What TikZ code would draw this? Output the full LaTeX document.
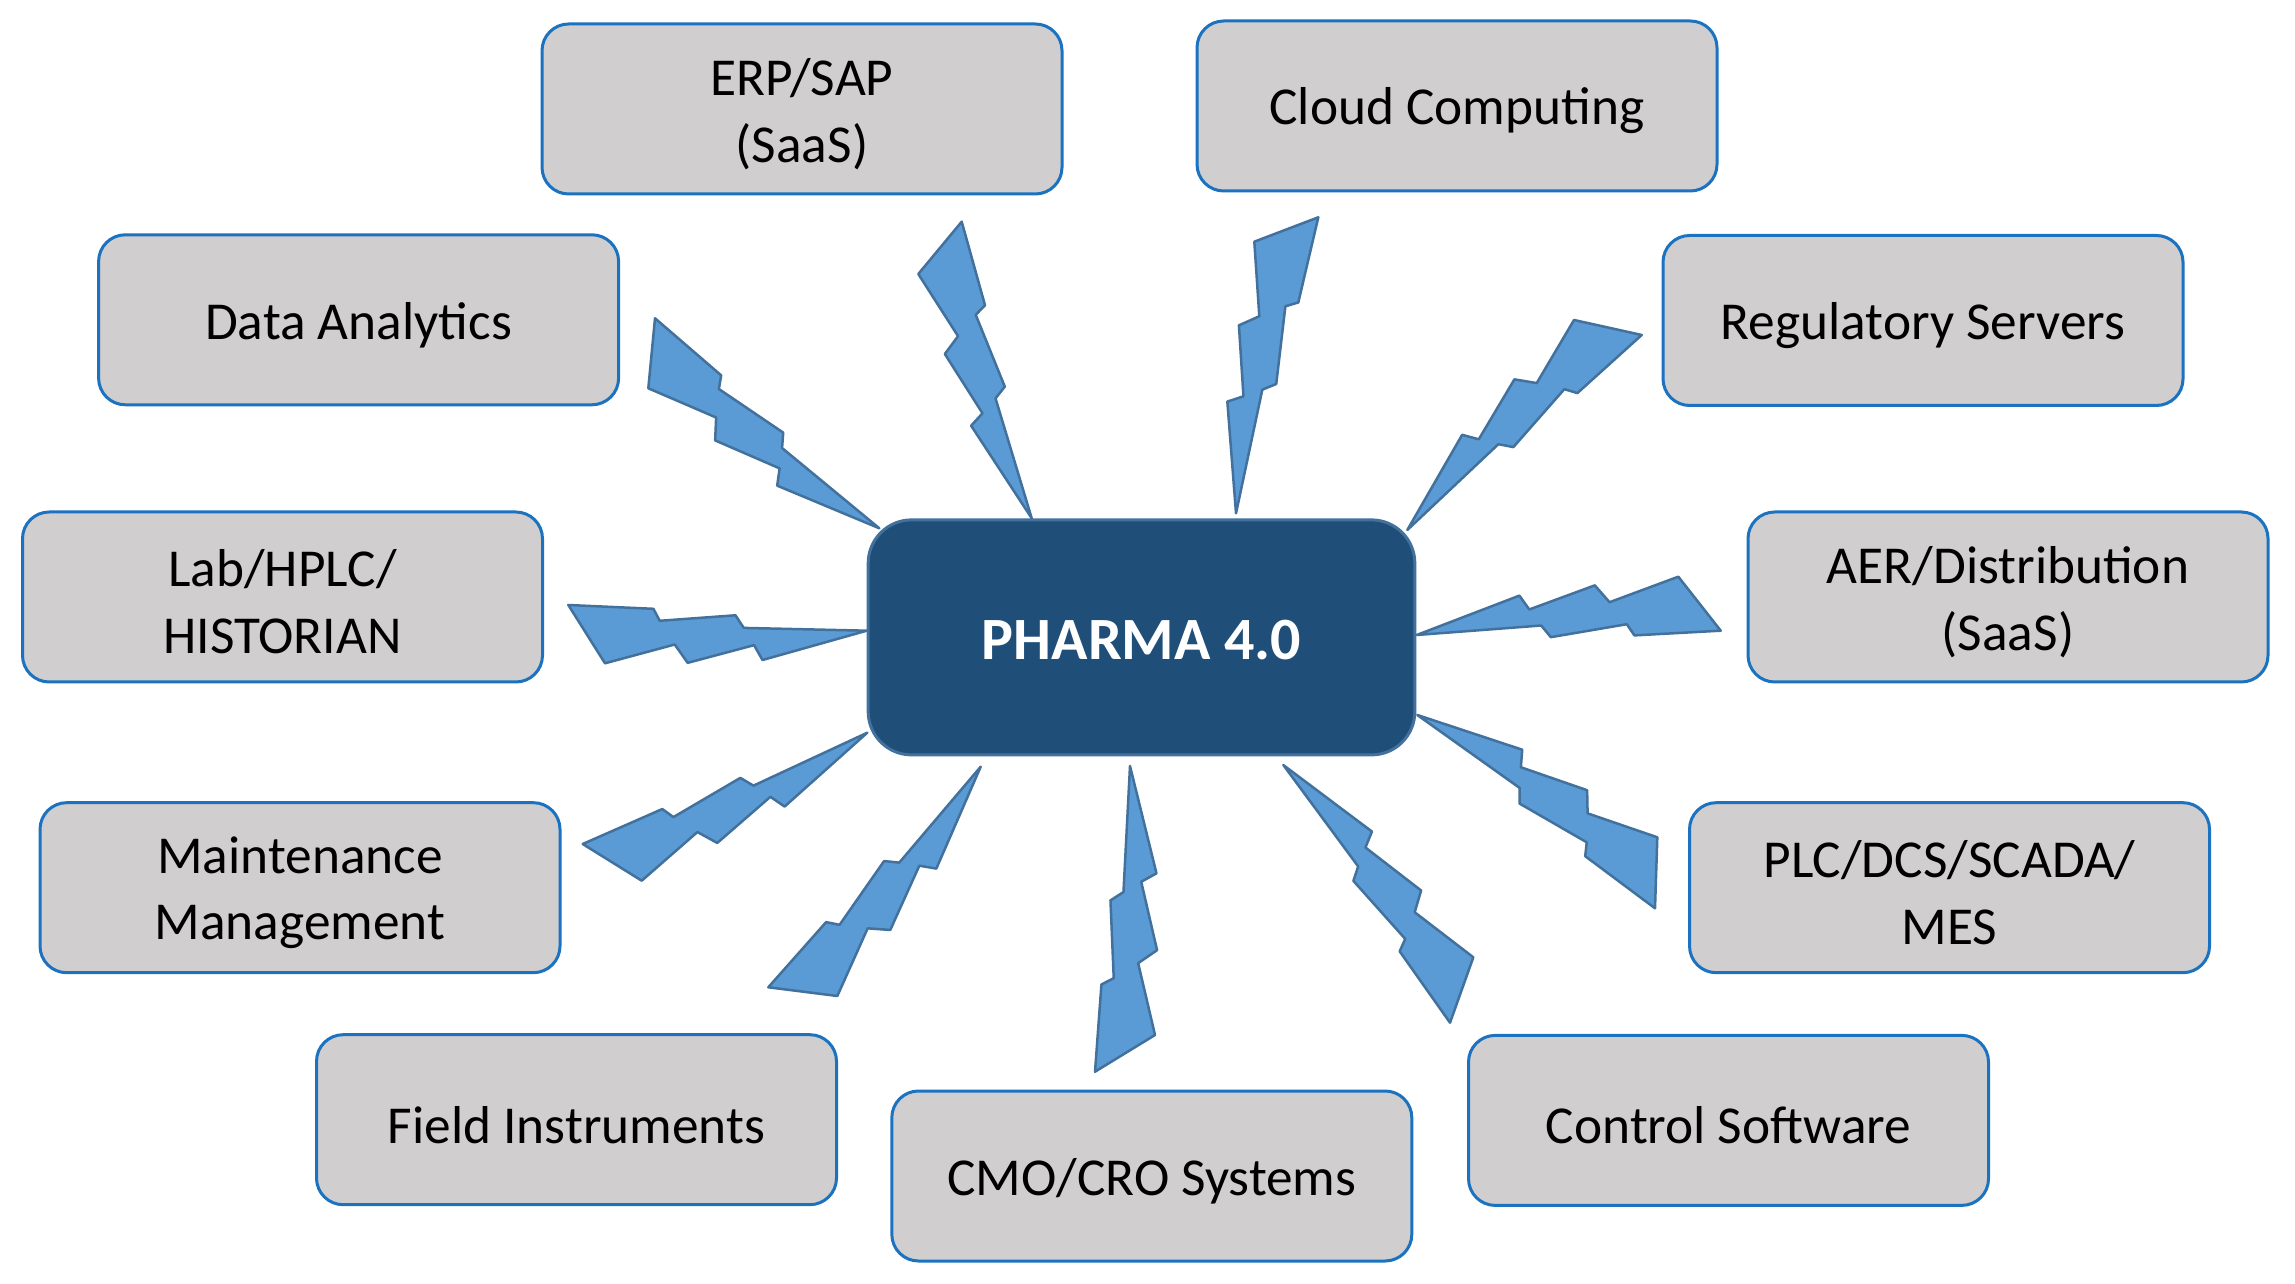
\documentclass[tikz,border=0pt]{standalone}
\usepackage{fontspec}
\setmainfont{Carlito}
\usetikzlibrary{calc}
\definecolor{boxfill}{HTML}{D0CECE}
\definecolor{boxline}{HTML}{1A72C0}
\definecolor{hubfill}{HTML}{1F4E79}
\definecolor{hubline}{HTML}{41719C}
\definecolor{boltfill}{HTML}{5B9BD5}
\definecolor{boltline}{HTML}{41719C}
% lightning bolt: #1 = corner A, #2 = corner B, #3 = tip
\newcommand{\lbolt}[3]{%
  \draw[boltstyle] (#1)
    -- ($0.77093*(#1)+0.29300*(#3)-0.06393*(#2)$)
    -- ($0.56782*(#1)+0.14332*(#2)+0.28886*(#3)$)
    -- ($0.50521*(#1)+0.56930*(#3)-0.07451*(#2)$)
    -- ($0.28797*(#1)+0.14132*(#2)+0.57071*(#3)$)
    -- (#3)
    -- ($0.69443*(#2)+0.56545*(#3)-0.25988*(#1)$)
    -- ($0.43843*(#2)+0.56859*(#3)-0.00702*(#1)$)
    -- ($0.86270*(#2)+0.29394*(#3)-0.15664*(#1)$)
    -- ($0.16066*(#1)+0.55041*(#2)+0.28893*(#3)$)
    -- (#2) -- cycle;}
\tikzset{
  outerbox/.style={draw=boxline, line width=0.9pt, fill=boxfill, rounded corners=8pt,
    minimum width=156pt, minimum height=51pt, inner sep=0pt},
  boxtext/.style={align=center, text=black, font=\fontsize{16}{20}\selectfont, inner sep=0pt},
  hubbox/.style={draw=hubline, line width=0.9pt, fill=hubfill, rounded corners=13pt,
    minimum width=164pt, minimum height=70.5pt, inner sep=0pt},
  hubtext/.style={align=center, text=white, font=\fontsize{18}{22}\selectfont\bfseries, inner sep=0pt},
  boltstyle/.style={draw=boltline, fill=boltfill, line width=0.75pt, line join=round}
}
\begin{document}
\begin{tikzpicture}[x=0.3pt,y=-0.3pt]
\useasboundingbox (0,0) rectangle (2295,1284);
\fill[white] (0,0) rectangle (2295,1284);
% boxes
\node[outerbox] (erp)   at (802,109)    {};
\node[outerbox] (cloud) at (1457,106)   {};
\node[outerbox] (data)  at (358.6,319.8) {};
\node[outerbox] (reg)   at (1923,320.5) {};
\node[outerbox] (lab)   at (282.5,597)  {};
\node[outerbox] (aer)   at (2008,597)   {};
\node[outerbox] (maint) at (300,887.7)  {};
\node[outerbox] (plc)   at (1949.5,887.7) {};
\node[outerbox] (field) at (576.5,1119.7) {};
\node[outerbox] (cmo)   at (1151.8,1176) {};
\node[outerbox] (ctrl)  at (1728.5,1120.4) {};
\node[hubbox]   (hub)   at (1141.5,637.4) {};
% texts
\node[boxtext] (erpt)   at ([yshift=-1.5pt]erp.center)   {ERP/SAP\\(SaaS)};
\node[boxtext] (cloudt) at ([yshift=-1.5pt]cloud.center) {Cloud Computing};
\node[boxtext] (datat)  at ([yshift=-1.5pt]data.center)  {Data Analytics};
\node[boxtext] (regt)   at ([yshift=-1.5pt]reg.center)   {Regulatory Servers};
\node[boxtext] (labt)   at ([yshift=-1.5pt]lab.center)   {Lab/HPLC/\\HISTORIAN};
\node[boxtext] (aert)   at ([yshift=-1.5pt]aer.center)   {AER/Distribution\\(SaaS)};
\node[boxtext] (maintt) at ([yshift=-1.5pt]maint.center) {Maintenance\\Management};
\node[boxtext] (plct)   at ([yshift=-1.5pt]plc.center)   {PLC/DCS/SCADA/\\MES};
\node[boxtext] (fieldt) at ([yshift=-1.5pt]field.center) {Field Instruments};
\node[boxtext] (cmot)   at ([yshift=-1.5pt]cmo.center)   {CMO/CRO Systems};
\node[boxtext] (ctrlt)  at ([yshift=-1.5pt]ctrl.center)  {Control Software};
\node[hubtext] (hubt)   at ([yshift=-0.9pt]hub.center)   {PHARMA 4.0};
% bolt corner and tip coordinates
\coordinate (erpA) at (961.7,221.7);  \coordinate (erpB) at (918.3,274);   \coordinate (erpT) at (1031.7,518.3);
\coordinate (clA)  at (1318.3,217.3); \coordinate (clB)  at (1254.3,241.7); \coordinate (clT)  at (1236,513.3);
\coordinate (rgA)  at (1641.7,335);   \coordinate (rgB)  at (1574,320);    \coordinate (rgT)  at (1407.3,530);
\coordinate (aeA)  at (1720.7,630.7); \coordinate (aeB)  at (1678.3,576.7); \coordinate (aeT)  at (1416.7,635);
\coordinate (plA)  at (1655,908.3);   \coordinate (plB)  at (1657.3,837.3); \coordinate (plT)  at (1417.3,715);
\coordinate (ctA)  at (1450,1022.7);  \coordinate (ctB)  at (1473.3,957.3); \coordinate (ctT)  at (1283.3,765);
\coordinate (cmA)  at (1095,1071.7);  \coordinate (cmB)  at (1155,1035);   \coordinate (cmT)  at (1130,766);
\coordinate (fiA)  at (768.3,987.3);  \coordinate (fiB)  at (837.3,996);   \coordinate (fiT)  at (980.7,766.7);
\coordinate (maA)  at (582.7,844);    \coordinate (maB)  at (641.7,880.7); \coordinate (maT)  at (867.3,732.7);
\coordinate (laA)  at (568.3,605);    \coordinate (laB)  at (605,663.3);   \coordinate (laT)  at (866.7,630.7);
\coordinate (daA)  at (655,318.3);    \coordinate (daB)  at (648.3,388.3); \coordinate (daT)  at (879.3,528.3);
% bolts
\lbolt{erpA}{erpB}{erpT}
\lbolt{clA}{clB}{clT}
\lbolt{rgA}{rgB}{rgT}
\lbolt{aeA}{aeB}{aeT}
\lbolt{plA}{plB}{plT}
\lbolt{ctA}{ctB}{ctT}
\lbolt{cmA}{cmB}{cmT}
\lbolt{fiA}{fiB}{fiT}
\lbolt{maA}{maB}{maT}
\lbolt{laA}{laB}{laT}
\lbolt{daA}{daB}{daT}
\end{tikzpicture}
\end{document}
